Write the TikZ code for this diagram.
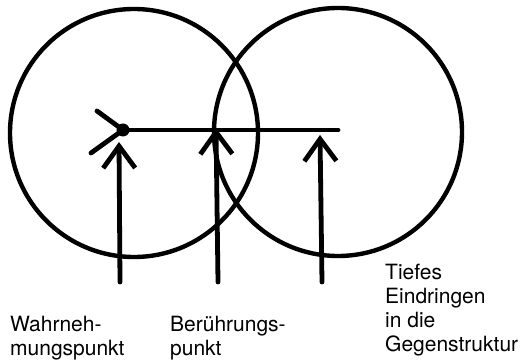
\documentclass[tikz,border=0pt]{standalone}
\usepackage{fontspec}
\setmainfont{TeX Gyre Heros}
\usetikzlibrary{arrows.meta,positioning}

\begin{document}
\begin{tikzpicture}[
  x=1pt, y=-1pt,
  ring/.style={draw, circle, line width=4.4pt, minimum size=248pt, inner sep=0pt},
  stroke/.style={line width=4.8pt, line cap=round},
  arrow/.style={stroke, -{Straight Barb[length=22pt, width=32pt]}},
  lbl/.style={anchor=north west, inner sep=0pt, align=left, font=\fontsize{21pt}{24pt}\selectfont}
]
\useasboundingbox (0,0) rectangle (528,363);

% Circles
\node[ring] (own) at (134,133) {};
\node[ring] (other) at (338,132) {};

% Point of perception and line
\node[circle, fill, inner sep=0pt, minimum size=13pt] (eye) at (123,130) {};
\coordinate (deep) at (338,130);
\draw[stroke] (eye.center) -- (deep);
\draw[stroke] (eye.center) -- ++(-26,-19);
\draw[stroke] (eye.center) -- ++(-32,23);

% Arrows
\coordinate (foot1) at (120,282);
\coordinate (tip1) at (119,142);
\coordinate (foot2) at (218,282);
\coordinate (touch) at (216,128);
\coordinate (foot3) at (322,282);
\coordinate (tip3) at (320,135);
\draw[arrow] (foot1) -- (tip1);
\draw[arrow] (foot2) -- (touch);
\draw[arrow] (foot3) -- (tip3);

% Labels
\node[lbl] (perc) at (10,316) {Wahrneh-\\mungspunkt};
\node[lbl] (cont) at (170,316) {Berührungs-\\punkt};
\node[lbl] (pen) at (385,264) {Tiefes\\Eindringen\\in die\\Gegenstruktur};
\end{tikzpicture}
\end{document}
